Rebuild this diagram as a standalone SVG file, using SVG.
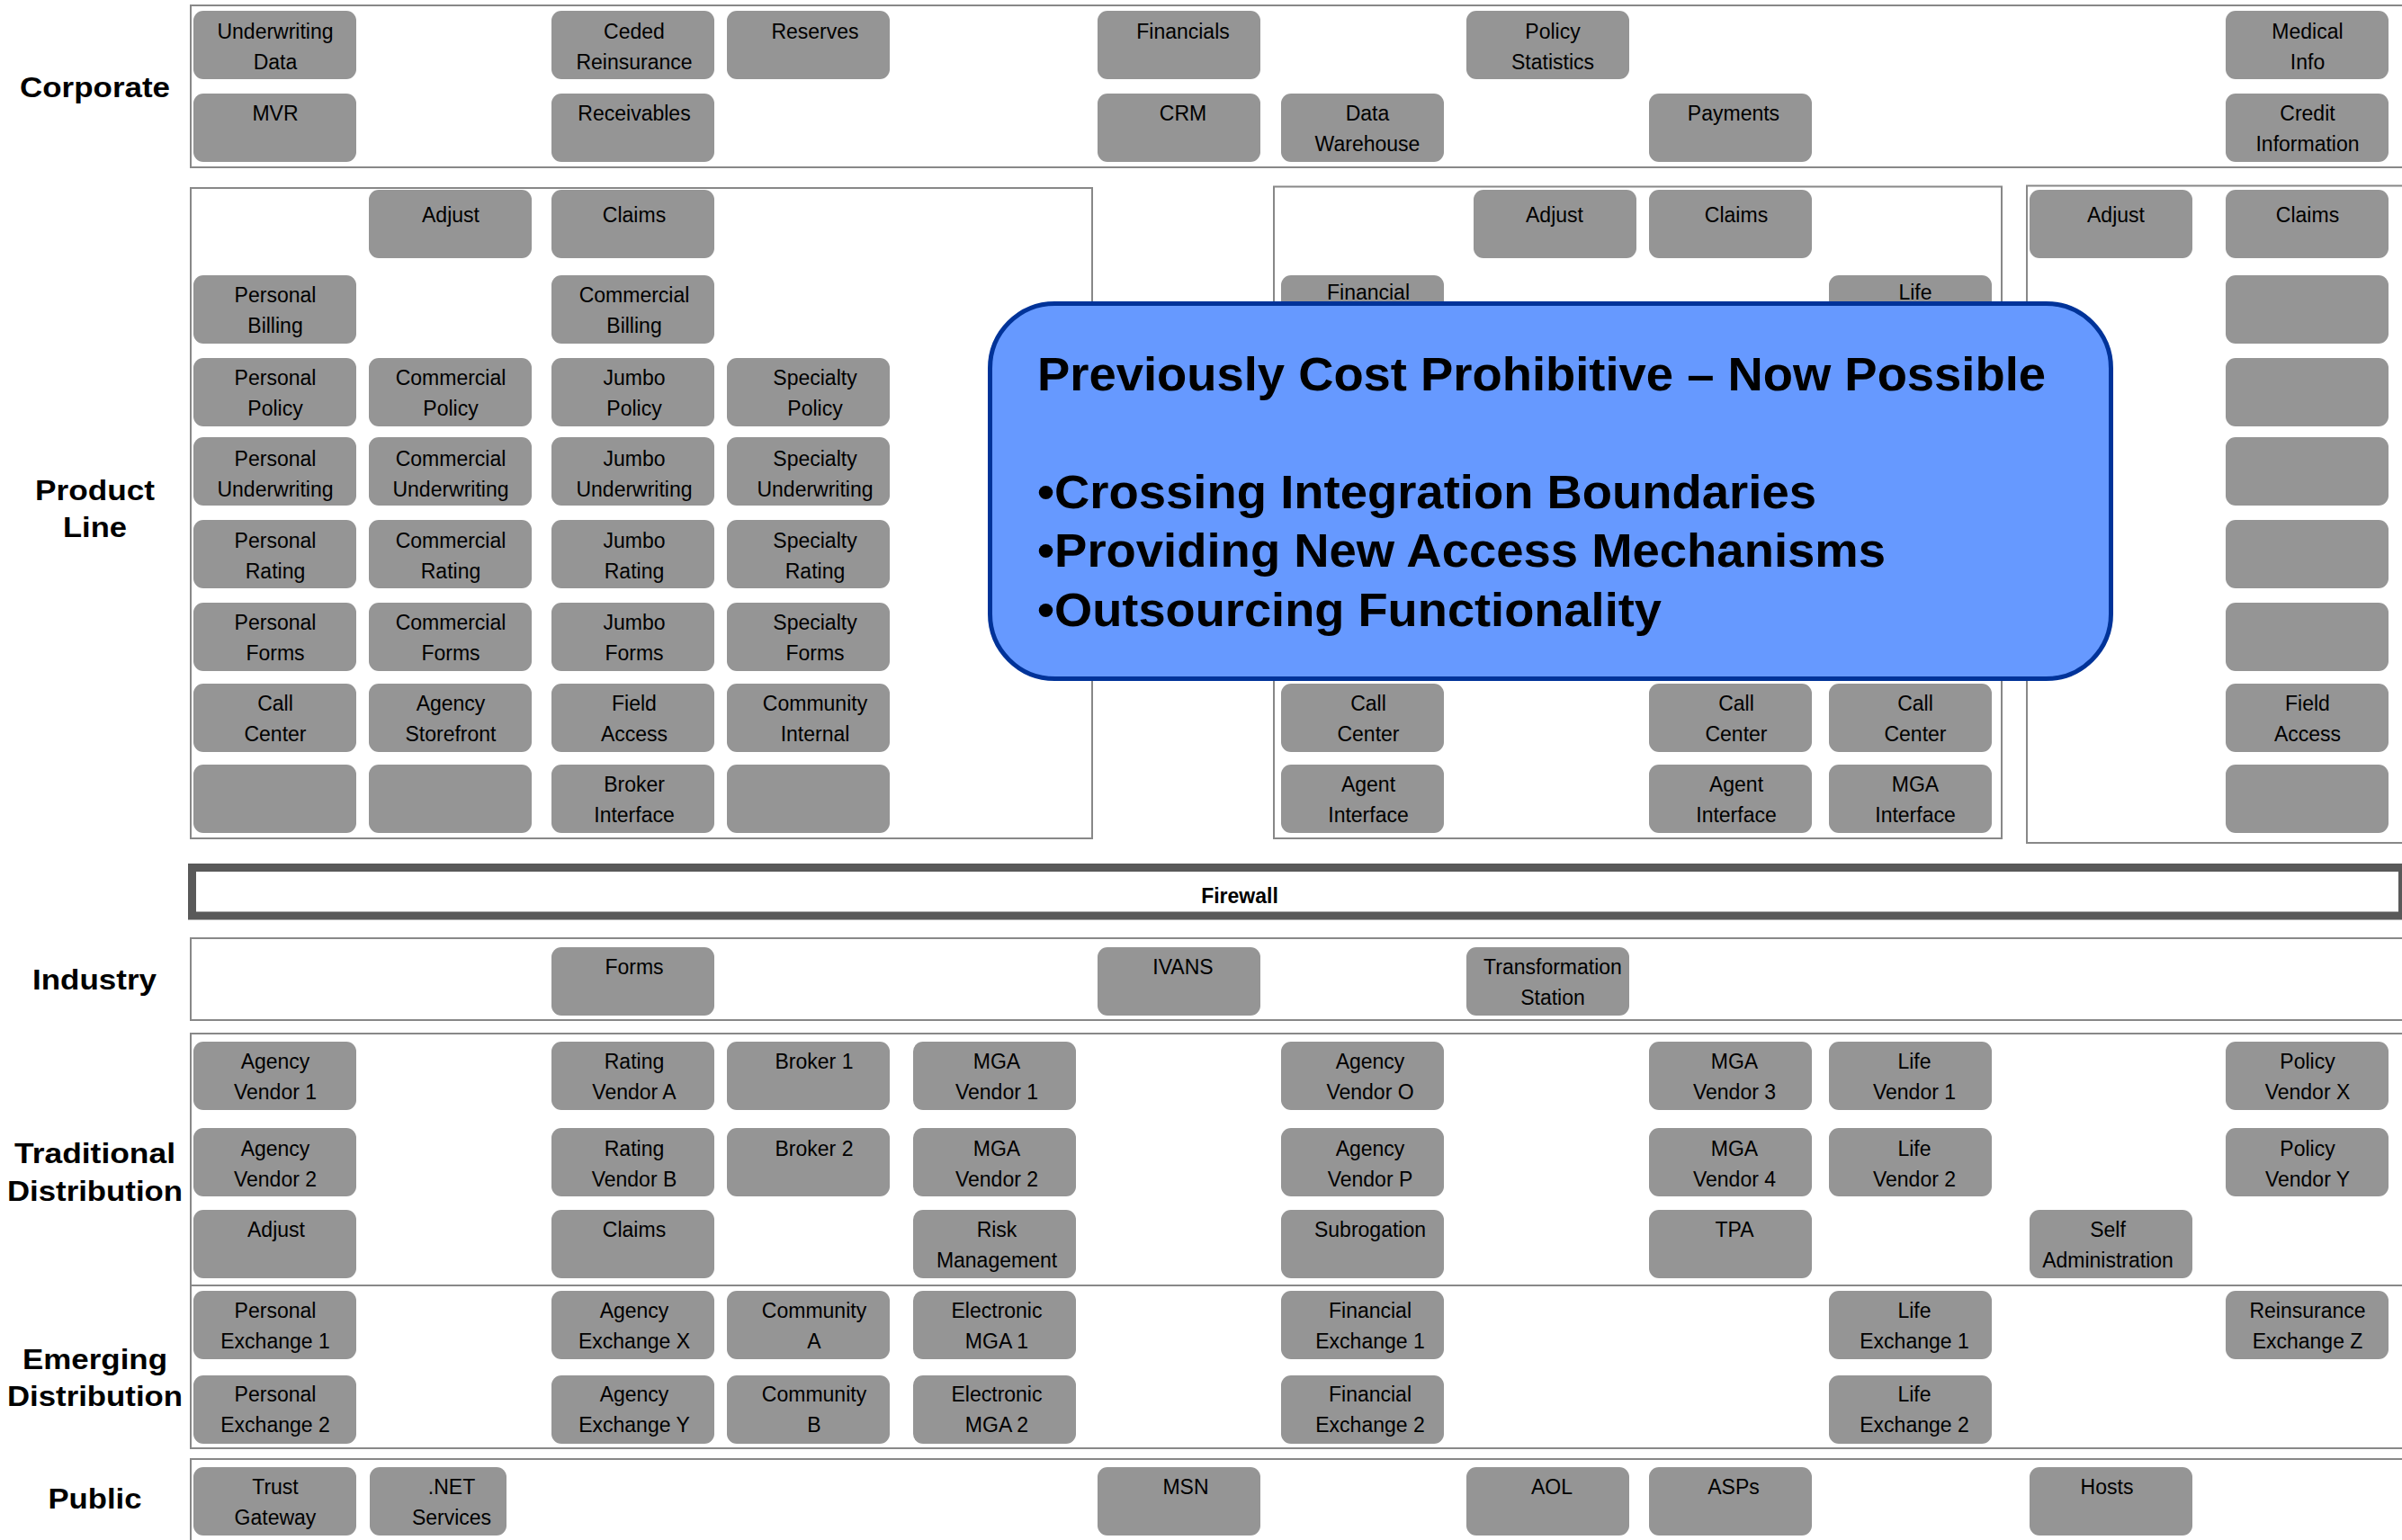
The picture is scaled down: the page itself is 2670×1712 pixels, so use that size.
<svg xmlns="http://www.w3.org/2000/svg" width="2670" height="1712" viewBox="0 0 2670 1712">
<style>
.bg{fill:#ffffff}
.sec{fill:none;stroke:#888888;stroke-width:2}
.fw{fill:#ffffff;stroke:#595959;stroke-width:9}
.node rect{fill:#959595}
.node text{font-family:"Liberation Sans",Arial,sans-serif;font-size:23px;fill:#000000;text-anchor:middle}
.lbl{font-family:"Liberation Sans",Arial,sans-serif;font-size:32px;font-weight:bold;fill:#000000;text-anchor:middle}
.fwt{font-family:"Liberation Sans",Arial,sans-serif;font-size:23px;font-weight:bold;fill:#000000;text-anchor:middle}
.callout{fill:#6699FF;stroke:#003399;stroke-width:5}
.ct{font-family:"Liberation Sans",Arial,sans-serif;font-size:51px;font-weight:bold;fill:#000000}
</style>
<rect class="bg" x="0" y="0" width="2670" height="1712"/>

<g id="sections">
<rect class="sec" x="212" y="6" width="2470" height="180"/>
<rect class="sec" x="212" y="209" width="1002" height="723"/>
<rect class="sec" x="1416" y="207.5" width="809" height="724.5"/>
<rect class="sec" x="2253" y="206.5" width="430" height="730.5"/>
<rect class="fw" x="213.5" y="964.5" width="2457" height="53.5"/>
<rect class="sec" x="212" y="1043" width="2470" height="91"/>
<rect class="sec" x="212" y="1149" width="2470" height="280"/>
<rect class="sec" x="212" y="1429" width="2470" height="181"/>
<rect class="sec" x="212" y="1622" width="2470" height="110"/>
</g>

<g id="labels">
<text class="lbl" x="105.5" y="108" textLength="167" lengthAdjust="spacingAndGlyphs">Corporate</text>
<text class="lbl" x="105.5" y="556" textLength="133" lengthAdjust="spacingAndGlyphs">Product</text>
<text class="lbl" x="105.5" y="597" textLength="71" lengthAdjust="spacingAndGlyphs">Line</text>
<text class="lbl" x="105" y="1100" textLength="138" lengthAdjust="spacingAndGlyphs">Industry</text>
<text class="lbl" x="105.5" y="1293" textLength="179" lengthAdjust="spacingAndGlyphs">Traditional</text>
<text class="lbl" x="105.5" y="1335" textLength="195" lengthAdjust="spacingAndGlyphs">Distribution</text>
<text class="lbl" x="105.5" y="1522" textLength="161" lengthAdjust="spacingAndGlyphs">Emerging</text>
<text class="lbl" x="105.5" y="1563" textLength="195" lengthAdjust="spacingAndGlyphs">Distribution</text>
<text class="lbl" x="105.5" y="1677" textLength="104" lengthAdjust="spacingAndGlyphs">Public</text>
<text class="fwt" x="1378" y="1004">Firewall</text>
</g>

<g id="connectors"/>

<!-- Corporate -->
<g id="corp-uwdata" class="node"><rect x="215" y="12" width="181" height="76" rx="11"/><text x="306" y="43">Underwriting</text><text x="306" y="77">Data</text></g>
<g id="corp-ceded" class="node"><rect x="613" y="12" width="181" height="76" rx="11"/><text x="705" y="43">Ceded</text><text x="705" y="77">Reinsurance</text></g>
<g id="corp-reserves" class="node"><rect x="808" y="12" width="181" height="76" rx="11"/><text x="906" y="43">Reserves</text></g>
<g id="corp-financials" class="node"><rect x="1220" y="12" width="181" height="76" rx="11"/><text x="1315" y="43">Financials</text></g>
<g id="corp-polstat" class="node"><rect x="1630" y="12" width="181" height="76" rx="11"/><text x="1726" y="43">Policy</text><text x="1726" y="77">Statistics</text></g>
<g id="corp-medical" class="node"><rect x="2474" y="12" width="181" height="76" rx="11"/><text x="2565" y="43">Medical</text><text x="2565" y="77">Info</text></g>
<g id="corp-mvr" class="node"><rect x="215" y="104" width="181" height="76" rx="11"/><text x="306" y="134">MVR</text></g>
<g id="corp-receivables" class="node"><rect x="613" y="104" width="181" height="76" rx="11"/><text x="705" y="134">Receivables</text></g>
<g id="corp-crm" class="node"><rect x="1220" y="104" width="181" height="76" rx="11"/><text x="1315" y="134">CRM</text></g>
<g id="corp-dw" class="node"><rect x="1424" y="104" width="181" height="76" rx="11"/><text x="1520" y="134">Data</text><text x="1520" y="168">Warehouse</text></g>
<g id="corp-payments" class="node"><rect x="1833" y="104" width="181" height="76" rx="11"/><text x="1927" y="134">Payments</text></g>
<g id="corp-credit" class="node"><rect x="2474" y="104" width="181" height="76" rx="11"/><text x="2565" y="134">Credit</text><text x="2565" y="168">Information</text></g>

<!-- Product Line left -->
<g id="pl-adjust" class="node"><rect x="410" y="211" width="181" height="76" rx="11"/><text x="501" y="247">Adjust</text></g>
<g id="pl-claims" class="node"><rect x="613" y="211" width="181" height="76" rx="11"/><text x="705" y="247">Claims</text></g>
<g id="pl-pers-billing" class="node"><rect x="215" y="306" width="181" height="76" rx="11"/><text x="306" y="336">Personal</text><text x="306" y="370">Billing</text></g>
<g id="pl-comm-billing" class="node"><rect x="613" y="306" width="181" height="76" rx="11"/><text x="705" y="336">Commercial</text><text x="705" y="370">Billing</text></g>
<g id="pl-pers-policy" class="node"><rect x="215" y="398" width="181" height="76" rx="11"/><text x="306" y="428">Personal</text><text x="306" y="462">Policy</text></g>
<g id="pl-comm-policy" class="node"><rect x="410" y="398" width="181" height="76" rx="11"/><text x="501" y="428">Commercial</text><text x="501" y="462">Policy</text></g>
<g id="pl-jumbo-policy" class="node"><rect x="613" y="398" width="181" height="76" rx="11"/><text x="705" y="428">Jumbo</text><text x="705" y="462">Policy</text></g>
<g id="pl-spec-policy" class="node"><rect x="808" y="398" width="181" height="76" rx="11"/><text x="906" y="428">Specialty</text><text x="906" y="462">Policy</text></g>
<g id="pl-pers-uw" class="node"><rect x="215" y="486" width="181" height="76" rx="11"/><text x="306" y="518">Personal</text><text x="306" y="552">Underwriting</text></g>
<g id="pl-comm-uw" class="node"><rect x="410" y="486" width="181" height="76" rx="11"/><text x="501" y="518">Commercial</text><text x="501" y="552">Underwriting</text></g>
<g id="pl-jumbo-uw" class="node"><rect x="613" y="486" width="181" height="76" rx="11"/><text x="705" y="518">Jumbo</text><text x="705" y="552">Underwriting</text></g>
<g id="pl-spec-uw" class="node"><rect x="808" y="486" width="181" height="76" rx="11"/><text x="906" y="518">Specialty</text><text x="906" y="552">Underwriting</text></g>
<g id="pl-pers-rating" class="node"><rect x="215" y="578" width="181" height="76" rx="11"/><text x="306" y="609">Personal</text><text x="306" y="643">Rating</text></g>
<g id="pl-comm-rating" class="node"><rect x="410" y="578" width="181" height="76" rx="11"/><text x="501" y="609">Commercial</text><text x="501" y="643">Rating</text></g>
<g id="pl-jumbo-rating" class="node"><rect x="613" y="578" width="181" height="76" rx="11"/><text x="705" y="609">Jumbo</text><text x="705" y="643">Rating</text></g>
<g id="pl-spec-rating" class="node"><rect x="808" y="578" width="181" height="76" rx="11"/><text x="906" y="609">Specialty</text><text x="906" y="643">Rating</text></g>
<g id="pl-pers-forms" class="node"><rect x="215" y="670" width="181" height="76" rx="11"/><text x="306" y="700">Personal</text><text x="306" y="734">Forms</text></g>
<g id="pl-comm-forms" class="node"><rect x="410" y="670" width="181" height="76" rx="11"/><text x="501" y="700">Commercial</text><text x="501" y="734">Forms</text></g>
<g id="pl-jumbo-forms" class="node"><rect x="613" y="670" width="181" height="76" rx="11"/><text x="705" y="700">Jumbo</text><text x="705" y="734">Forms</text></g>
<g id="pl-spec-forms" class="node"><rect x="808" y="670" width="181" height="76" rx="11"/><text x="906" y="700">Specialty</text><text x="906" y="734">Forms</text></g>
<g id="pl-callcenter" class="node"><rect x="215" y="760" width="181" height="76" rx="11"/><text x="306" y="790">Call</text><text x="306" y="824">Center</text></g>
<g id="pl-storefront" class="node"><rect x="410" y="760" width="181" height="76" rx="11"/><text x="501" y="790">Agency</text><text x="501" y="824">Storefront</text></g>
<g id="pl-fieldaccess" class="node"><rect x="613" y="760" width="181" height="76" rx="11"/><text x="705" y="790">Field</text><text x="705" y="824">Access</text></g>
<g id="pl-community" class="node"><rect x="808" y="760" width="181" height="76" rx="11"/><text x="906" y="790">Community</text><text x="906" y="824">Internal</text></g>
<g id="pl-empty1" class="node"><rect x="215" y="850" width="181" height="76" rx="11"/></g>
<g id="pl-empty2" class="node"><rect x="410" y="850" width="181" height="76" rx="11"/></g>
<g id="pl-broker" class="node"><rect x="613" y="850" width="181" height="76" rx="11"/><text x="705" y="880">Broker</text><text x="705" y="914">Interface</text></g>
<g id="pl-empty4" class="node"><rect x="808" y="850" width="181" height="76" rx="11"/></g>

<!-- Product Line middle -->
<g id="pm-adjust" class="node"><rect x="1638" y="211" width="181" height="76" rx="11"/><text x="1728" y="247">Adjust</text></g>
<g id="pm-claims" class="node"><rect x="1833" y="211" width="181" height="76" rx="11"/><text x="1930" y="247">Claims</text></g>
<g id="pm-financial" class="node"><rect x="1424" y="306" width="181" height="76" rx="11"/><text x="1521" y="333">Financial</text></g>
<g id="pm-life" class="node"><rect x="2033" y="306" width="181" height="76" rx="11"/><text x="2129" y="333">Life</text></g>
<g id="pm-callcenter1" class="node"><rect x="1424" y="760" width="181" height="76" rx="11"/><text x="1521" y="790">Call</text><text x="1521" y="824">Center</text></g>
<g id="pm-callcenter2" class="node"><rect x="1833" y="760" width="181" height="76" rx="11"/><text x="1930" y="790">Call</text><text x="1930" y="824">Center</text></g>
<g id="pm-callcenter3" class="node"><rect x="2033" y="760" width="181" height="76" rx="11"/><text x="2129" y="790">Call</text><text x="2129" y="824">Center</text></g>
<g id="pm-agent1" class="node"><rect x="1424" y="850" width="181" height="76" rx="11"/><text x="1521" y="880">Agent</text><text x="1521" y="914">Interface</text></g>
<g id="pm-agent2" class="node"><rect x="1833" y="850" width="181" height="76" rx="11"/><text x="1930" y="880">Agent</text><text x="1930" y="914">Interface</text></g>
<g id="pm-mga" class="node"><rect x="2033" y="850" width="181" height="76" rx="11"/><text x="2129" y="880">MGA</text><text x="2129" y="914">Interface</text></g>

<!-- Product Line right -->
<g id="pr-adjust" class="node"><rect x="2256" y="211" width="181" height="76" rx="11"/><text x="2352" y="247">Adjust</text></g>
<g id="pr-claims" class="node"><rect x="2474" y="211" width="181" height="76" rx="11"/><text x="2565" y="247">Claims</text></g>
<g id="pr-empty2" class="node"><rect x="2474" y="306" width="181" height="76" rx="11"/></g>
<g id="pr-empty3" class="node"><rect x="2474" y="398" width="181" height="76" rx="11"/></g>
<g id="pr-empty4" class="node"><rect x="2474" y="486" width="181" height="76" rx="11"/></g>
<g id="pr-empty5" class="node"><rect x="2474" y="578" width="181" height="76" rx="11"/></g>
<g id="pr-empty6" class="node"><rect x="2474" y="670" width="181" height="76" rx="11"/></g>
<g id="pr-fieldaccess" class="node"><rect x="2474" y="760" width="181" height="76" rx="11"/><text x="2565" y="790">Field</text><text x="2565" y="824">Access</text></g>
<g id="pr-empty8" class="node"><rect x="2474" y="850" width="181" height="76" rx="11"/></g>

<!-- Industry -->
<g id="ind-forms" class="node"><rect x="613" y="1053" width="181" height="76" rx="11"/><text x="705" y="1083">Forms</text></g>
<g id="ind-ivans" class="node"><rect x="1220" y="1053" width="181" height="76" rx="11"/><text x="1315" y="1083">IVANS</text></g>
<g id="ind-transform" class="node"><rect x="1630" y="1053" width="181" height="76" rx="11"/><text x="1726" y="1083">Transformation</text><text x="1726" y="1117">Station</text></g>

<!-- Traditional Distribution -->
<g id="td-agency1" class="node"><rect x="215" y="1158" width="181" height="76" rx="11"/><text x="306" y="1188">Agency</text><text x="306" y="1222">Vendor 1</text></g>
<g id="td-ratingA" class="node"><rect x="613" y="1158" width="181" height="76" rx="11"/><text x="705" y="1188">Rating</text><text x="705" y="1222">Vendor A</text></g>
<g id="td-broker1" class="node"><rect x="808" y="1158" width="181" height="76" rx="11"/><text x="905" y="1188">Broker 1</text></g>
<g id="td-mga1" class="node"><rect x="1015" y="1158" width="181" height="76" rx="11"/><text x="1108" y="1188">MGA</text><text x="1108" y="1222">Vendor 1</text></g>
<g id="td-agencyO" class="node"><rect x="1424" y="1158" width="181" height="76" rx="11"/><text x="1523" y="1188">Agency</text><text x="1523" y="1222">Vendor O</text></g>
<g id="td-mga3" class="node"><rect x="1833" y="1158" width="181" height="76" rx="11"/><text x="1928" y="1188">MGA</text><text x="1928" y="1222">Vendor 3</text></g>
<g id="td-life1" class="node"><rect x="2033" y="1158" width="181" height="76" rx="11"/><text x="2128" y="1188">Life</text><text x="2128" y="1222">Vendor 1</text></g>
<g id="td-policyX" class="node"><rect x="2474" y="1158" width="181" height="76" rx="11"/><text x="2565" y="1188">Policy</text><text x="2565" y="1222">Vendor X</text></g>
<g id="td-agency2" class="node"><rect x="215" y="1254" width="181" height="76" rx="11"/><text x="306" y="1285">Agency</text><text x="306" y="1319">Vendor 2</text></g>
<g id="td-ratingB" class="node"><rect x="613" y="1254" width="181" height="76" rx="11"/><text x="705" y="1285">Rating</text><text x="705" y="1319">Vendor B</text></g>
<g id="td-broker2" class="node"><rect x="808" y="1254" width="181" height="76" rx="11"/><text x="905" y="1285">Broker 2</text></g>
<g id="td-mga2" class="node"><rect x="1015" y="1254" width="181" height="76" rx="11"/><text x="1108" y="1285">MGA</text><text x="1108" y="1319">Vendor 2</text></g>
<g id="td-agencyP" class="node"><rect x="1424" y="1254" width="181" height="76" rx="11"/><text x="1523" y="1285">Agency</text><text x="1523" y="1319">Vendor P</text></g>
<g id="td-mga4" class="node"><rect x="1833" y="1254" width="181" height="76" rx="11"/><text x="1928" y="1285">MGA</text><text x="1928" y="1319">Vendor 4</text></g>
<g id="td-life2" class="node"><rect x="2033" y="1254" width="181" height="76" rx="11"/><text x="2128" y="1285">Life</text><text x="2128" y="1319">Vendor 2</text></g>
<g id="td-policyY" class="node"><rect x="2474" y="1254" width="181" height="76" rx="11"/><text x="2565" y="1285">Policy</text><text x="2565" y="1319">Vendor Y</text></g>
<g id="td-adjust" class="node"><rect x="215" y="1345" width="181" height="76" rx="11"/><text x="307" y="1375">Adjust</text></g>
<g id="td-claims" class="node"><rect x="613" y="1345" width="181" height="76" rx="11"/><text x="705" y="1375">Claims</text></g>
<g id="td-risk" class="node"><rect x="1015" y="1345" width="181" height="76" rx="11"/><text x="1108" y="1375">Risk</text><text x="1108" y="1409">Management</text></g>
<g id="td-subrogation" class="node"><rect x="1424" y="1345" width="181" height="76" rx="11"/><text x="1523" y="1375">Subrogation</text></g>
<g id="td-tpa" class="node"><rect x="1833" y="1345" width="181" height="76" rx="11"/><text x="1928" y="1375">TPA</text></g>
<g id="td-selfadmin" class="node"><rect x="2256" y="1345" width="181" height="76" rx="11"/><text x="2343" y="1375">Self</text><text x="2343" y="1409">Administration</text></g>

<!-- Emerging Distribution -->
<g id="ed-persx1" class="node"><rect x="215" y="1435" width="181" height="76" rx="11"/><text x="306" y="1465">Personal</text><text x="306" y="1499">Exchange 1</text></g>
<g id="ed-agencyX" class="node"><rect x="613" y="1435" width="181" height="76" rx="11"/><text x="705" y="1465">Agency</text><text x="705" y="1499">Exchange X</text></g>
<g id="ed-commA" class="node"><rect x="808" y="1435" width="181" height="76" rx="11"/><text x="905" y="1465">Community</text><text x="905" y="1499">A</text></g>
<g id="ed-emga1" class="node"><rect x="1015" y="1435" width="181" height="76" rx="11"/><text x="1108" y="1465">Electronic</text><text x="1108" y="1499">MGA 1</text></g>
<g id="ed-finx1" class="node"><rect x="1424" y="1435" width="181" height="76" rx="11"/><text x="1523" y="1465">Financial</text><text x="1523" y="1499">Exchange 1</text></g>
<g id="ed-lifex1" class="node"><rect x="2033" y="1435" width="181" height="76" rx="11"/><text x="2128" y="1465">Life</text><text x="2128" y="1499">Exchange 1</text></g>
<g id="ed-reinsZ" class="node"><rect x="2474" y="1435" width="181" height="76" rx="11"/><text x="2565" y="1465">Reinsurance</text><text x="2565" y="1499">Exchange Z</text></g>
<g id="ed-persx2" class="node"><rect x="215" y="1529" width="181" height="76" rx="11"/><text x="306" y="1558">Personal</text><text x="306" y="1592">Exchange 2</text></g>
<g id="ed-agencyY" class="node"><rect x="613" y="1529" width="181" height="76" rx="11"/><text x="705" y="1558">Agency</text><text x="705" y="1592">Exchange Y</text></g>
<g id="ed-commB" class="node"><rect x="808" y="1529" width="181" height="76" rx="11"/><text x="905" y="1558">Community</text><text x="905" y="1592">B</text></g>
<g id="ed-emga2" class="node"><rect x="1015" y="1529" width="181" height="76" rx="11"/><text x="1108" y="1558">Electronic</text><text x="1108" y="1592">MGA 2</text></g>
<g id="ed-finx2" class="node"><rect x="1424" y="1529" width="181" height="76" rx="11"/><text x="1523" y="1558">Financial</text><text x="1523" y="1592">Exchange 2</text></g>
<g id="ed-lifex2" class="node"><rect x="2033" y="1529" width="181" height="76" rx="11"/><text x="2128" y="1558">Life</text><text x="2128" y="1592">Exchange 2</text></g>

<!-- Public -->
<g id="pub-trust" class="node"><rect x="215" y="1631" width="181" height="76" rx="11"/><text x="306" y="1661">Trust</text><text x="306" y="1695">Gateway</text></g>
<g id="pub-net" class="node"><rect x="411" y="1631" width="152" height="76" rx="11"/><text x="502" y="1661">.NET</text><text x="502" y="1695">Services</text></g>
<g id="pub-msn" class="node"><rect x="1220" y="1631" width="181" height="76" rx="11"/><text x="1318" y="1661">MSN</text></g>
<g id="pub-aol" class="node"><rect x="1630" y="1631" width="181" height="76" rx="11"/><text x="1725" y="1661">AOL</text></g>
<g id="pub-asps" class="node"><rect x="1833" y="1631" width="181" height="76" rx="11"/><text x="1927" y="1661">ASPs</text></g>
<g id="pub-hosts" class="node"><rect x="2256" y="1631" width="181" height="76" rx="11"/><text x="2342" y="1661">Hosts</text></g>

<!-- Callout -->
<g id="callout">
<rect class="callout" x="1100.5" y="337.5" width="1246" height="417" rx="72" ry="72"/>
<text class="ct" x="1153" y="434" textLength="1121" lengthAdjust="spacingAndGlyphs">Previously Cost Prohibitive – Now Possible</text>
<text class="ct" x="1153" y="565" textLength="866" lengthAdjust="spacingAndGlyphs">•Crossing Integration Boundaries</text>
<text class="ct" x="1153" y="630" textLength="943" lengthAdjust="spacingAndGlyphs">•Providing New Access Mechanisms</text>
<text class="ct" x="1153" y="696" textLength="694" lengthAdjust="spacingAndGlyphs">•Outsourcing Functionality</text>
</g>
</svg>
